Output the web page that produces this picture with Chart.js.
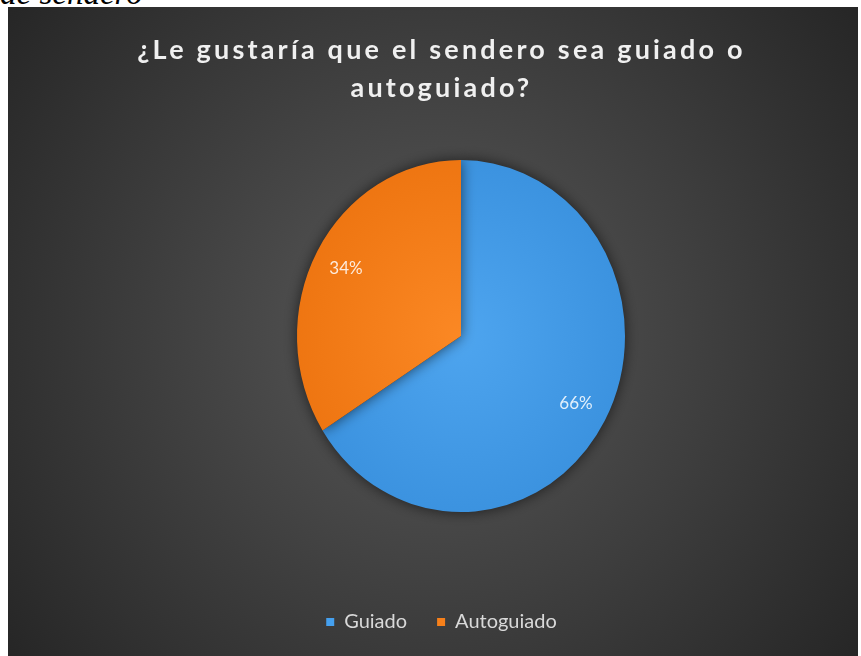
<!DOCTYPE html>
<html><head><meta charset="utf-8">
<script src="https://cdn.jsdelivr.net/npm/chart.js@4/dist/chart.umd.min.js"></script>
<style>
html,body{margin:0;padding:0;background:#fff;width:861px;height:656px;overflow:hidden;}
#cap{position:absolute;left:0;top:-23px;font-family:'Liberation Serif',serif;font-style:italic;font-size:33px;line-height:32px;color:#000;white-space:nowrap;}
#wrap{position:absolute;left:8px;top:7px;width:850px;height:649px;}
</style></head><body>
<div id="cap">de sendero</div>
<div id="wrap"><canvas id="c" width="850" height="649"></canvas></div>
<script>
const categories = ['Guiado', 'Autoguiado'];
const values = [66, 34];
const titleLines = ['¿Le gustaría que el sendero sea guiado o', 'autoguiado?'];

const colorsCenter = ['#4ea5ef', '#fb8824'];
const colorsEdge = ['#3b92df', '#ee7511'];
const legendColors = ['#45a0ef', '#f7801a'];
const SY = 176 / 164;

const bgPlugin = {
  id: 'bg',
  beforeDraw(chart) {
    const {ctx, width, height} = chart;
    ctx.save();
    const g = ctx.createRadialGradient(width / 2, height / 2, 0, width / 2, height / 2, Math.hypot(width, height) / 2);
    g.addColorStop(0, '#595959');
    g.addColorStop(1, '#262626');
    ctx.fillStyle = g;
    ctx.fillRect(0, 0, width, height);
    ctx.restore();
  }
};

const titleSpacing = {
  id: 'titleSpacing',
  afterInit(chart) {
    const tb = chart.titleBlock;
    if (!tb) return;
    const orig = tb.draw.bind(tb);
    tb.draw = function (...a) {
      const c = chart.ctx;
      c.save();
      c.letterSpacing = '3.2px';
      orig(...a);
      c.restore();
      c.letterSpacing = '0px';
    };
  }
};

const pieShape = {
  id: 'pieShape',
  beforeDatasetsDraw(chart) {
    const ctx = chart.ctx;
    const el = chart.getDatasetMeta(0).data[0];
    ctx.save();
    ctx.translate(el.x, el.y);
    ctx.scale(1, SY);
    ctx.translate(-el.x, -el.y);
    ctx.shadowColor = 'rgba(0,0,0,0.6)';
    ctx.shadowBlur = 14;
  },
  afterDatasetsDraw(chart) {
    const ctx = chart.ctx;
    ctx.restore();
    const meta = chart.getDatasetMeta(0);
    const total = values.reduce((a, b) => a + b, 0);
    ctx.save();
    ctx.font = '17px Lato';
    ctx.fillStyle = 'rgba(255,255,255,0.85)';
    ctx.textAlign = 'center';
    ctx.textBaseline = 'middle';
    meta.data.forEach((arc, i) => {
      const mid = (arc.startAngle + arc.endAngle) / 2;
      const r = arc.outerRadius * 0.8;
      const x = arc.x + Math.cos(mid) * r;
      const y = arc.y + Math.sin(mid) * r * SY;
      ctx.fillText(Math.round(values[i] / total * 100) + '%', x, y);
    });
    ctx.restore();
  }
};

new Chart(document.getElementById('c'), {
  type: 'pie',
  data: {
    labels: categories,
    datasets: [{
      data: values,
      radius: 164,
      borderWidth: 0,
      backgroundColor: (c) => {
        const i = c.dataIndex;
        const chart = c.chart;
        const a = chart.chartArea;
        if (!a || i === undefined) return colorsCenter[i || 0];
        const cx = (a.left + a.right) / 2, cy = (a.top + a.bottom) / 2;
        const g = chart.ctx.createRadialGradient(cx, cy, 0, cx, cy, 170);
        g.addColorStop(0, colorsCenter[i]);
        g.addColorStop(1, colorsEdge[i]);
        return g;
      }
    }]
  },
  options: {
    responsive: false,
    animation: false,
    events: [],
    layout: {padding: {left: 17, right: 0, top: 0, bottom: 14}},
    plugins: {
      tooltip: {enabled: false},
      title: {
        display: true,
        text: titleLines,
        color: '#f0f0f0',
        font: {family: 'Lato', size: 27, weight: 'bold', lineHeight: 1.41},
        padding: {top: 24, bottom: 5}
      },
      subtitle: {
        display: true,
        position: 'left',
        text: ' ',
        color: 'rgba(0,0,0,0)',
        font: {size: 10, lineHeight: 1},
        padding: {top: 0, bottom: 29}
      },
      legend: {
        position: 'bottom',
        title: {display: true, text: ' ', color: 'rgba(0,0,0,0)', font: {size: 10, lineHeight: 1}, padding: {top: 12, bottom: 0}},
        labels: {
          boxWidth: 8,
          boxHeight: 8,
          padding: 30,
          color: '#d9d9d9',
          font: {family: 'Lato', size: 20},
          generateLabels(chart) {
            const items = Chart.overrides.pie.plugins.legend.labels.generateLabels(chart);
            items.forEach((it, i) => { it.fillStyle = legendColors[i]; it.strokeStyle = legendColors[i]; it.lineWidth = 0; });
            return items;
          }
        }
      }
    }
  },
  plugins: [bgPlugin, titleSpacing, pieShape]
});
</script>
</body></html>
